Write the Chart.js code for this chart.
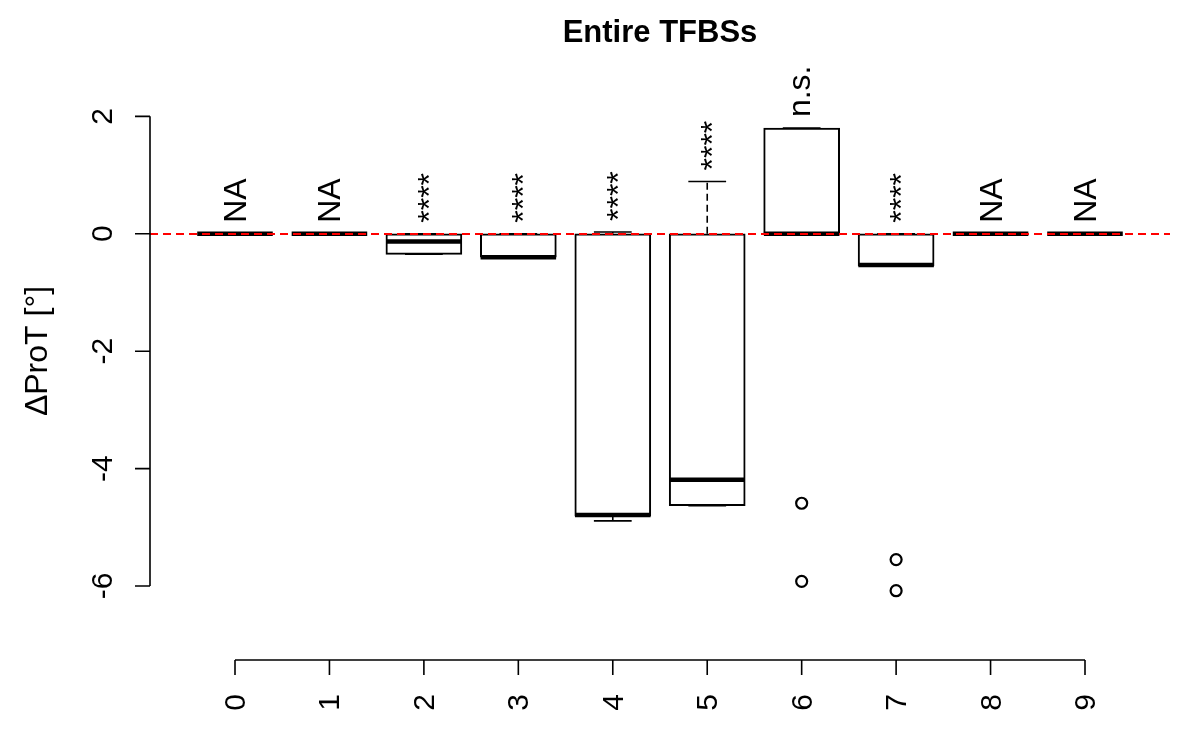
<!DOCTYPE html>
<html>
<head>
<meta charset="utf-8">
<script src="https://cdn.jsdelivr.net/npm/chart.js@4.4.0/dist/chart.umd.min.js"></script>
<style>
  html, body { margin: 0; padding: 0; background: #fff; }
  #wrap { width: 1200px; height: 750px; }
</style>
</head>
<body>
<div id="wrap"><canvas id="boxChart" width="1200" height="750"></canvas></div>
<script>
// box statistics, one entry per group
const categories  = ['0', '1', '2', '3', '4', '5', '6', '7', '8', '9'];
const whiskerLow  = [0, 0, -0.35, -0.40, -4.89, -4.63, 0, -0.545, 0, 0];
const lowerQ      = [0, 0, -0.35, -0.40, -4.81, -4.63, 0, -0.545, 0, 0];
const medians     = [0, 0, -0.13, -0.40, -4.79, -4.19, 0, -0.53, 0, 0];
const upperQ      = [0, 0, 0, 0, 0, 0, 1.80, 0, 0, 0];
const whiskerHigh = [0, 0, 0, 0, 0.03, 0.89, 1.80, 0, 0, 0];
const outlierX    = [6, 6, 7, 7];
const outlierY    = [-4.59, -5.92, -5.55, -6.08];
const signifLabels = ['NA', 'NA', '****', '****', '****', '****', 'n.s.', '****', 'NA', 'NA'];
const yTicks = [-6, -4, -2, 0, 2];

const FONT = '"Liberation Sans", Arial, Helvetica, sans-serif';

const boxData = categories.map((c, i) => ({ x: i, y: [lowerQ[i], upperQ[i]] }));
const outlierData = outlierX.map((x, i) => ({ x: x, y: outlierY[i] }));

// R-style box plot extras: medians, whiskers, axes, texts
const boxExtras = {
    id: 'boxExtras',
    afterDatasetsDraw(chart) {
        const ctx = chart.ctx;
        const x = chart.scales.x;
        const y = chart.scales.y;
        const area = chart.chartArea;
        const halfBox = (x.getPixelForValue(0.4) - x.getPixelForValue(0));
        const halfCap = halfBox / 2;

        ctx.save();
        ctx.strokeStyle = '#000';
        ctx.lineCap = 'butt';

        categories.forEach((c, i) => {
            const cx = x.getPixelForValue(i);
            // whiskers
            ctx.lineWidth = 1.6;
            ctx.setLineDash([7, 4]);
            ctx.beginPath();
            ctx.moveTo(cx, y.getPixelForValue(upperQ[i]));
            ctx.lineTo(cx, y.getPixelForValue(whiskerHigh[i]));
            ctx.moveTo(cx, y.getPixelForValue(lowerQ[i]));
            ctx.lineTo(cx, y.getPixelForValue(whiskerLow[i]));
            ctx.stroke();
            ctx.setLineDash([]);
            // staples
            ctx.beginPath();
            [whiskerHigh[i], whiskerLow[i]].forEach(v => {
                const py = y.getPixelForValue(v);
                ctx.moveTo(cx - halfCap, py);
                ctx.lineTo(cx + halfCap, py);
            });
            ctx.stroke();
            // median
            ctx.lineWidth = 4.5;
            const my = y.getPixelForValue(medians[i]);
            ctx.beginPath();
            ctx.moveTo(cx - halfBox, my);
            ctx.lineTo(cx + halfBox, my);
            ctx.stroke();
        });

        // red dashed zero line
        ctx.strokeStyle = '#ff0000';
        ctx.lineWidth = 2;
        ctx.setLineDash([8, 5]);
        const zy = Math.round(y.getPixelForValue(0));
        ctx.beginPath();
        ctx.moveTo(area.left, zy);
        ctx.lineTo(area.right, zy);
        ctx.stroke();
        ctx.setLineDash([]);

        // y axis
        ctx.strokeStyle = '#000';
        ctx.lineWidth = 1.6;
        ctx.beginPath();
        ctx.moveTo(area.left, y.getPixelForValue(yTicks[yTicks.length - 1]));
        ctx.lineTo(area.left, y.getPixelForValue(yTicks[0]));
        yTicks.forEach(t => {
            const py = y.getPixelForValue(t);
            ctx.moveTo(area.left, py);
            ctx.lineTo(area.left - 15, py);
        });
        ctx.stroke();

        // x axis
        ctx.beginPath();
        ctx.moveTo(x.getPixelForValue(0), area.bottom);
        ctx.lineTo(x.getPixelForValue(categories.length - 1), area.bottom);
        categories.forEach((c, i) => {
            const px = x.getPixelForValue(i);
            ctx.moveTo(px, area.bottom);
            ctx.lineTo(px, area.bottom + 15);
        });
        ctx.stroke();

        ctx.fillStyle = '#000';

        // y tick labels, rotated
        ctx.font = '30px ' + FONT;
        ctx.textAlign = 'center';
        ctx.textBaseline = 'alphabetic';
        yTicks.forEach(t => {
            ctx.save();
            ctx.translate(112, y.getPixelForValue(t));
            ctx.rotate(-Math.PI / 2);
            ctx.fillText(String(t), 0, 0);
            ctx.restore();
        });

        // x tick labels, perpendicular
        ctx.textAlign = 'right';
        categories.forEach((c, i) => {
            ctx.save();
            ctx.translate(x.getPixelForValue(i), 694);
            ctx.rotate(-Math.PI / 2);
            const m = ctx.measureText(c);
            ctx.fillText(c, 0, (m.actualBoundingBoxAscent - m.actualBoundingBoxDescent) / 2);
            ctx.restore();
        });

        // significance labels
        ctx.font = '32px ' + FONT;
        ctx.textAlign = 'left';
        signifLabels.forEach((s, i) => {
            ctx.save();
            ctx.translate(x.getPixelForValue(i), y.getPixelForValue(whiskerHigh[i]) - 11);
            ctx.rotate(-Math.PI / 2);
            const m = ctx.measureText(s);
            ctx.fillText(s, 0, (m.actualBoundingBoxAscent - m.actualBoundingBoxDescent) / 2);
            ctx.restore();
        });

        // y axis title
        ctx.font = '32px ' + FONT;
        ctx.textAlign = 'center';
        ctx.save();
        ctx.translate(47, 351);
        ctx.rotate(-Math.PI / 2);
        ctx.fillText('\u0394ProT [\u00b0]', 0, 0);
        ctx.restore();

        // main title
        ctx.font = 'bold 31px ' + FONT;
        ctx.fillText('Entire TFBSs', (area.left + area.right) / 2, 42);

        ctx.restore();
    }
};

new Chart(document.getElementById('boxChart').getContext('2d'), {
    type: 'bar',
    data: {
        datasets: [{
            type: 'bar',
            data: boxData,
            backgroundColor: '#ffffff',
            borderColor: '#000000',
            borderWidth: 2,
            borderSkipped: false,
            barThickness: 76,
            order: 2
        }, {
            type: 'scatter',
            data: outlierData,
            pointStyle: 'circle',
            pointRadius: 5.5,
            borderColor: '#000000',
            borderWidth: 2.2,
            backgroundColor: 'rgba(0,0,0,0)',
            order: 1
        }]
    },
    options: {
        responsive: false,
        animation: false,
        devicePixelRatio: 1,
        layout: { padding: { left: 150, right: 30, top: 60, bottom: 90 } },
        plugins: {
            legend: { display: false },
            tooltip: { enabled: false }
        },
        scales: {
            x: { type: 'linear', min: -0.9, max: 9.9, display: false, offset: false },
            y: { type: 'linear', min: -7.26, max: 2.96, display: false }
        }
    },
    plugins: [boxExtras]
});
</script>
</body>
</html>
